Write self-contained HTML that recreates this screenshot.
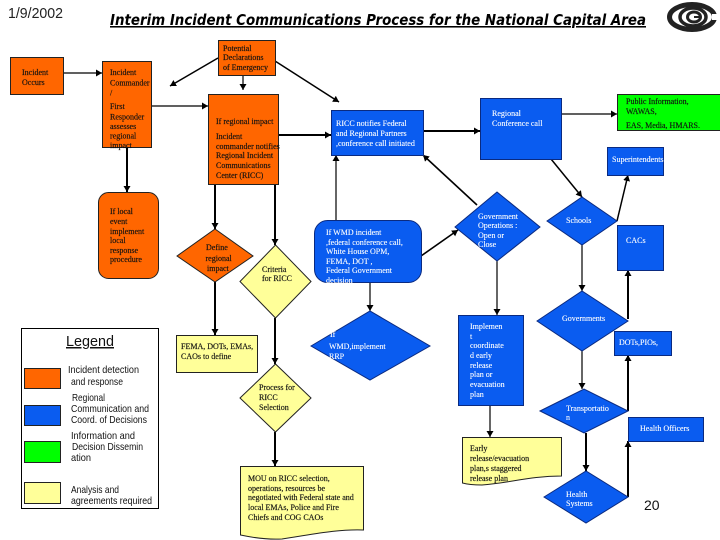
<!DOCTYPE html>
<html><head><meta charset="utf-8"><style>
html,body{margin:0;padding:0;background:#fff}
svg{display:block}
.s{font-family:"Liberation Serif",serif;font-size:8px;fill:#111;stroke:#111;stroke-width:.15}
.w{font-family:"Liberation Serif",serif;font-size:8px;fill:#fff;stroke:#fff;stroke-width:.1}
.l{font-family:"Liberation Sans",sans-serif;font-size:10.5px;fill:#111}
.b{stroke:#0a2a80;stroke-width:1}
.c{stroke:#000;stroke-width:1.2;fill:none;marker-end:url(#a)}
.t{stroke:#000;stroke-width:2;fill:none;marker-end:url(#a)}
</style></head><body>
<svg width="720" height="540" viewBox="0 0 720 540" xmlns="http://www.w3.org/2000/svg">
<defs><marker id="a" markerUnits="userSpaceOnUse" markerWidth="8" markerHeight="8" refX="6" refY="3.5" orient="auto"><path d="M0 0L6 3.5L0 7Z" fill="#000"/></marker></defs>
<rect width="720" height="540" fill="#fff"/>

<text x="8" y="18" font-family="Liberation Sans, sans-serif" font-size="15" fill="#222" textLength="55" lengthAdjust="spacingAndGlyphs">1/9/2002</text>
<text x="110" y="25" font-family="DejaVu Sans, sans-serif" font-weight="bold" font-style="italic" font-size="15.5" fill="#000" text-decoration="underline" textLength="536" lengthAdjust="spacingAndGlyphs">Interim Incident Communications Process for the National Capital Area</text>

<g fill="none" stroke="#222">
<ellipse cx="692" cy="17" rx="22.500" ry="12.500" stroke-width="5"/>
<ellipse cx="693" cy="17" rx="13" ry="9" stroke-width="3.500"/>
<ellipse cx="694" cy="17" rx="6.500" ry="5" stroke-width="3"/>
<rect x="712" y="14" width="8" height="6" fill="#fff" stroke="none"/>
<path d="M694 17h7" stroke-width="2"/>
</g>

<!-- connectors -->
<path class="c" d="M63 73H102"/>
<path class="c" d="M151 106H208"/>
<path class="c" d="M218 58L170 86" style="stroke-width:1.500"/>
<path class="c" d="M243 75V90"/>
<path class="c" d="M275 61L339 102" style="stroke-width:1.500"/>
<path class="t" d="M278 135H331"/>
<path class="t" d="M127 147V192"/>
<path class="t" d="M215 184V229"/>
<path class="t" d="M215 282V335"/>
<path class="t" d="M275 184V245"/>
<path class="t" d="M275 318V364"/>
<path class="t" d="M275 432V466"/>
<path class="c" d="M336 220V155"/>
<path class="t" d="M423 131H480"/>
<path class="c" d="M561 114H617"/>
<path class="t" d="M477 205L423 155" style="stroke-width:1.600"/>
<path class="c" d="M551 159L582 197" style="stroke-width:1.500"/>
<path class="c" d="M617 221L628 175" style="stroke-width:1.500"/>
<path class="t" d="M421 256L458 230" style="stroke-width:1.600"/>
<path class="c" d="M370 282V311"/>
<path class="c" d="M497 261V315"/>
<path class="c" d="M490 405V437"/>
<path class="c" d="M582 245V291"/>
<path class="t" d="M628 319V270"/>
<path class="c" d="M582 351V389"/>
<path class="t" d="M628 411V355"/>
<path class="t" d="M586 433V471"/>
<path class="t" d="M628 497V441"/>

<!-- orange -->
<g fill="#ff6600" stroke="#222" stroke-width="1">
<rect x="10.500" y="57.500" width="53" height="37"/>
<rect x="102.500" y="61.500" width="49" height="86"/>
<rect x="218.500" y="40.500" width="57" height="35"/>
<rect x="208.500" y="94.500" width="70" height="90"/>
<rect x="98.500" y="192.500" width="60" height="86" rx="10"/>
<polygon points="177,256 215,229 253,256 215,282"/>
</g>
<!-- blue -->
<g fill="#0a5cf0" class="b">
<rect x="331.500" y="110.500" width="92" height="45"/>
<rect x="480.500" y="98.500" width="81" height="61"/>
<rect x="607.500" y="147.500" width="56" height="28"/>
<rect x="314.500" y="220.500" width="107" height="62" rx="13"/>
<polygon points="455,227 497,192 540,227 497,261"/>
<polygon points="547,221 582,197 617,221 582,245"/>
<rect x="617.500" y="225.500" width="46" height="45"/>
<polygon points="537,321 582,291 628,321 582,351"/>
<rect x="614.500" y="331.500" width="57" height="24"/>
<rect x="458.500" y="315.500" width="65" height="90"/>
<polygon points="311,346 370,311 430,346 370,380"/>
<polygon points="540,411 584,389 628,411 584,433"/>
<rect x="628.500" y="417.500" width="75" height="24"/>
<polygon points="544,497 586,471 628,497 586,523"/>
</g>
<rect x="617.500" y="94.500" width="103" height="36" fill="#00ff00" stroke="#222"/>
<!-- yellow -->
<g fill="#ffff99" stroke="#222" stroke-width="1">
<polygon points="240,281.500 275.500,245 311,281.500 275.500,318"/>
<rect x="176.500" y="335.500" width="81" height="37"/>
<polygon points="240,398 275.500,364 311,398 275.500,432"/>
<path d="M240.500 466.500H363.500V530C335 529 310 535 282 539C265 540 250 537 240.500 535Z"/>
<path d="M462.500 437.500H561.500V476C530 476 510 483 482 485C474 485 466 484 462.500 483Z"/>
</g>

<!-- legend -->
<rect x="21.500" y="328.500" width="137" height="180" fill="#fff" stroke="#000"/>
<rect x="24.500" y="368.500" width="36" height="20" fill="#ff6600" stroke="#222"/>
<rect x="24.500" y="405.500" width="36" height="20" fill="#0a5cf0" stroke="#222"/>
<rect x="24.500" y="441.500" width="36" height="21" fill="#00ff00" stroke="#222"/>
<rect x="24.500" y="482.500" width="36" height="21" fill="#ffff99" stroke="#222"/>
<text x="66" y="346" font-family="Liberation Sans, sans-serif" font-size="15" fill="#111" text-decoration="underline" textLength="48" lengthAdjust="spacingAndGlyphs">Legend</text>
<g class="l" lengthAdjust="spacingAndGlyphs">
<text x="68" y="373" textLength="71" lengthAdjust="spacingAndGlyphs">Incident detection</text>
<text x="71" y="385" textLength="52" lengthAdjust="spacingAndGlyphs">and response</text>
<text x="72" y="401" textLength="33" lengthAdjust="spacingAndGlyphs">Regional</text>
<text x="71" y="412" textLength="78" lengthAdjust="spacingAndGlyphs">Communication and</text>
<text x="71" y="423" textLength="76" lengthAdjust="spacingAndGlyphs">Coord. of Decisions</text>
<text x="71" y="439" textLength="64" lengthAdjust="spacingAndGlyphs">Information and</text>
<text x="72" y="450" textLength="71" lengthAdjust="spacingAndGlyphs">Decision Dissemin</text>
<text x="71" y="461" textLength="20" lengthAdjust="spacingAndGlyphs">ation</text>
<text x="71" y="493" textLength="48" lengthAdjust="spacingAndGlyphs">Analysis and</text>
<text x="71" y="504" textLength="81" lengthAdjust="spacingAndGlyphs">agreements required</text>
</g>

<!-- dark labels -->
<g class="s">
<text x="22" y="75">Incident</text><text x="22" y="85">Occurs</text>
<text x="110" y="75">Incident</text><text x="110" y="85.500">Commander</text><text x="110" y="95.500">/</text>
<text x="110" y="109">First</text><text x="110" y="119.500">Responder</text><text x="110" y="129">assesses</text><text x="110" y="138.500">regional</text><text x="110" y="148">impact</text>
<text x="223" y="51">Potential</text><text x="223" y="60">Declarations</text><text x="223" y="70">of Emergency</text>
<text x="216" y="124">If  regional impact</text>
<text x="216" y="139">Incident</text><text x="216" y="149">commander notifies</text><text x="216" y="158">Regional Incident</text><text x="216" y="168">Communications</text><text x="216" y="178">Center (RICC)</text>
<text x="110" y="214">If  local</text><text x="110" y="224">event</text><text x="110" y="234">implement</text><text x="110" y="243">local</text><text x="110" y="253">response</text><text x="110" y="262">procedure</text>
<text x="206" y="250">Define</text><text x="205.500" y="261">regional</text><text x="207" y="271">impact</text>
<text x="262" y="272">Criteria</text><text x="262" y="281">for RICC</text>
<text x="181" y="349">FEMA, DOTs, EMAs,</text><text x="181" y="359">CAOs  to define</text>
<text x="259" y="390">Process for</text><text x="259" y="400">RICC</text><text x="259" y="410">Selection</text>
<text x="248" y="481">MOU on RICC selection,</text><text x="248" y="491">operations, resources  be</text><text x="248" y="500">negotiated with Federal state and</text><text x="248" y="510">local EMAs, Police and Fire</text><text x="248" y="520">Chiefs and COG CAOs</text>
<text x="470" y="451">Early</text><text x="470" y="461">release/evacuation</text><text x="470" y="471">plan,s staggered</text><text x="470" y="481">release plan</text>
<text x="626" y="104">Public Information,</text><text x="626" y="114">WAWAS,</text><text x="626" y="128">EAS, Media, HMARS.</text>
</g>

<!-- white labels -->
<g class="w">
<text x="336" y="126">RICC notifies Federal</text><text x="336" y="136">and Regional Partners</text><text x="336" y="146">,conference call initiated</text>
<text x="492" y="116">Regional</text><text x="492" y="126">Conference call</text>
<text x="612" y="162">Superintendents</text>
<text x="326" y="235">If WMD incident</text><text x="326" y="245">,federal conference call,</text><text x="326" y="254">White House OPM,</text><text x="326" y="264">FEMA, DOT ,</text><text x="326" y="273">Federal Government</text><text x="326" y="283">decision</text>
<text x="478" y="219">Government</text><text x="478" y="228">Operations :</text><text x="478" y="238">Open or</text><text x="478" y="247">Close</text>
<text x="566" y="223">Schools</text>
<text x="626" y="243">CACs</text>
<text x="562" y="321">Governments</text>
<text x="619" y="345">DOTs,PIOs,</text>
<text x="470" y="329">Implemen</text><text x="470" y="339">t</text><text x="470" y="348">coordinate</text><text x="470" y="358">d early</text><text x="470" y="368">release</text><text x="470" y="377">plan or</text><text x="470" y="387">evacuation</text><text x="470" y="397">plan</text>
<text x="330" y="337">If</text><text x="329" y="349">WMD,implement</text><text x="329" y="359">RRP</text>
<text x="566" y="411">Transportatio</text><text x="566" y="420">n</text>
<text x="640" y="431">Health Officers</text>
<text x="566" y="497">Health</text><text x="566" y="506">Systems</text>
</g>
<text x="644" y="510" font-family="Liberation Sans, sans-serif" font-size="14" fill="#111">20</text>
</svg>
</body></html>
